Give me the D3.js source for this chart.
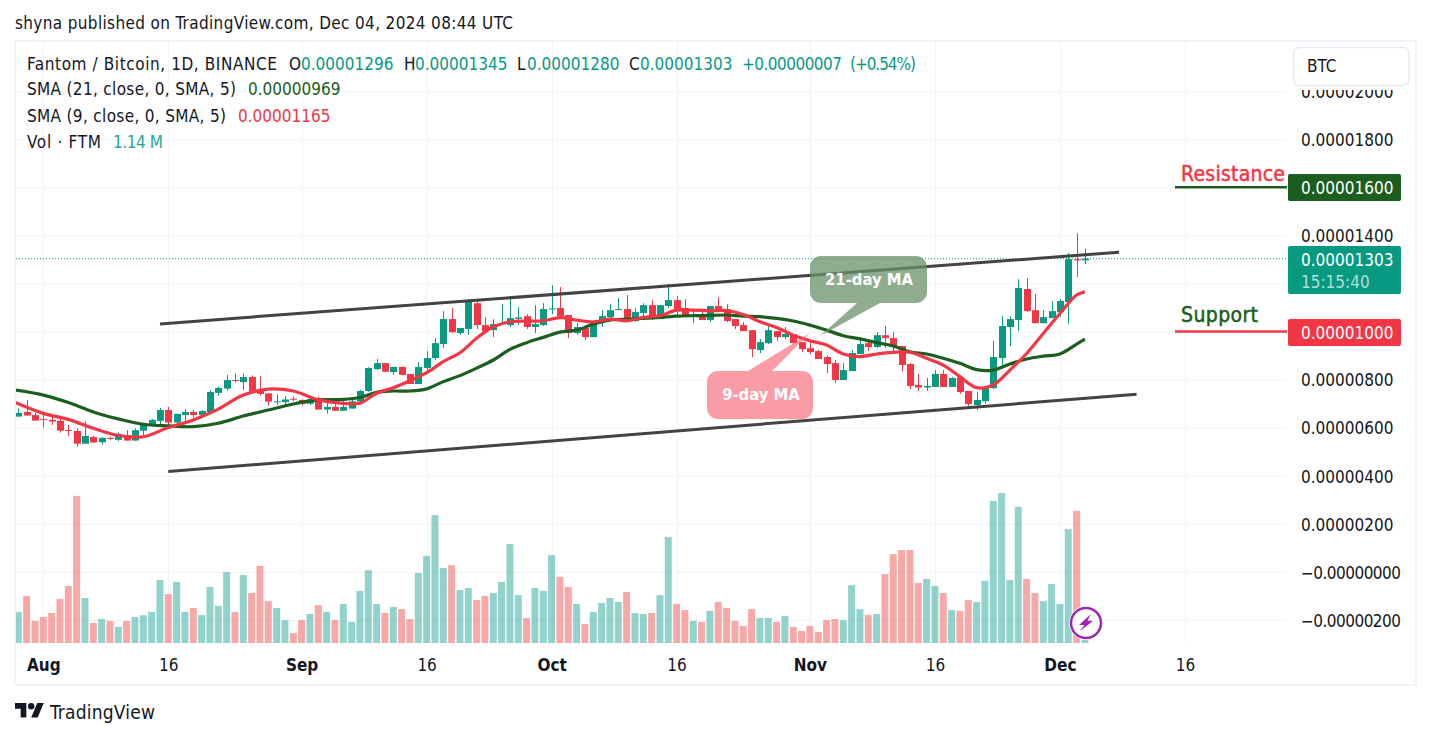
<!DOCTYPE html>
<html><head><meta charset="utf-8">
<script src="https://cdn.jsdelivr.net/npm/d3@7"></script>
<style>
html,body{margin:0;padding:0;background:#fff;overflow:hidden}
svg{display:block}
text{font-family:"DejaVu Sans Condensed","DejaVu Sans",sans-serif;fill:#131722}
</style></head><body><div id="chart"></div>
<script>
// prices are in units of 0.00000001 BTC, one entry per daily candle from 29 Jul 2024
const opens=[647,666,653,637,633,629,591,587,534,562,540,558,550,569,547,588,608,629,674,622,653,666,653,665,745,763,799,790,811,760,743,707,707,721,716,700,723,676,687,671,680,709,753,844,869,832,853,824,782,849,890,948,1052,994,1011,1118,1027,1006,1033,1027,1053,1064,1019,1027,1094,1098,1069,994,1015,977,1040,1060,1091,1094,1044,1077,1110,1052,1106,1131,1098,1085,1069,1048,1106,1094,1052,1027,1006,923,952,1002,977,990,956,931,919,894,869,799,836,907,952,936,985,973,940,865,778,768,770,824,770,810,753,695,711,765,890,1019,1048,1177,1089,1035,1056,1081,1123,1301,1296];
const highs=[681,716,662,658,647,640,612,598,627,566,561,563,581,591,598,613,637,683,687,658,678,674,674,757,771,820,826,826,818,815,743,739,732,730,718,732,730,709,702,713,718,758,852,886,870,853,855,824,874,919,973,1085,1098,1015,1135,1127,1060,1052,1114,1135,1102,1073,1110,1118,1193,1185,1069,1035,1027,1044,1089,1114,1139,1152,1098,1118,1131,1110,1197,1148,1135,1089,1085,1106,1143,1114,1052,1040,1006,969,1023,1002,1019,990,956,961,923,902,882,869,923,965,965,998,1023,998,940,869,824,807,840,840,811,811,753,749,765,961,1064,1064,1218,1222,1156,1089,1127,1135,1326,1409,1345];
const lows=[647,651,630,601,612,580,566,522,534,537,530,550,545,547,547,570,605,616,605,612,629,642,640,660,734,754,788,757,748,734,692,695,695,711,692,695,676,659,671,671,680,709,750,840,832,820,818,782,782,824,882,932,994,986,986,1011,994,977,1031,1019,1027,1011,994,1023,1073,1064,973,986,965,977,1019,1056,1089,1040,1040,1056,1048,1052,1098,1069,1064,1035,1048,1040,1081,1040,1011,1002,894,911,948,961,969,952,915,907,886,828,786,799,836,907,919,932,932,919,836,761,753,753,770,770,770,741,691,674,699,761,861,940,1002,1081,1035,1035,1056,1060,1031,1226,1280];
const closes=[662,651,630,634,626,588,588,534,566,539,558,555,575,547,590,613,633,674,622,658,666,653,670,749,766,799,796,811,753,741,709,710,718,718,700,720,676,687,671,687,710,753,849,869,833,853,820,782,853,890,952,1052,998,1015,1123,1027,1002,1031,1035,1056,1059,1019,1031,1094,1096,1064,994,1019,977,1044,1064,1089,1094,1044,1081,1110,1052,1110,1131,1085,1064,1089,1048,1106,1085,1044,1023,1002,927,956,1006,977,990,952,927,915,886,865,799,840,911,948,936,985,973,936,861,774,768,774,824,770,807,749,699,716,765,894,1023,1052,1181,1085,1035,1060,1085,1127,1301,1296,1303];
// volume in millions of FTM
const volumes=[11.8,17.9,8.4,9.9,11.4,16.7,21.7,55.9,17.1,7.6,9.1,8.4,6.1,8.4,9.9,10.6,11.8,23.9,18.6,23.2,11.8,13.3,10.6,21.3,14.1,27.0,11.8,25.8,19.0,29.3,16.0,13.3,8.7,3.8,8.7,11.0,14.4,11.8,8.7,14.8,8.0,19.8,27.7,14.8,11.4,13.7,12.9,9.1,26.6,33.1,48.6,28.5,29.6,20.1,20.9,16.3,17.9,19.0,23.2,37.6,18.2,9.5,20.9,19.8,33.4,25.1,21.3,14.8,7.2,11.8,15.2,17.1,15.6,19.4,11.4,11.0,11.4,18.2,40.3,14.8,12.5,8.4,8.0,12.2,15.6,13.3,8.4,6.5,12.9,9.5,9.5,8.0,10.3,6.1,4.6,6.5,4.2,8.7,9.1,8.7,22.0,12.9,10.6,11.0,26.2,33.8,35.3,35.3,22.8,24.3,21.7,19.0,12.5,12.2,16.3,15.6,23.6,54.0,57.0,23.9,51.7,24.3,19.0,16.0,22.4,14.8,43.3,50.2,1.14];
// moving averages at these day offsets
const maDays=[-0.4,3,6,9,12,15,18,21,24,27,30,33,36,39,41,43,45,47,49,51,53,55,57,59,61,63,65,67,69,71,73,75,77,79,81,83,85,87,89,91,93,95,97,99,101,103,105,107,109,111,113,115,117,119,121,123,125,127,128];
const sma9=[706,660,635,598,568,563,601,633,678,736,761,753,716,702,702,744,767,796,829,875,912,972,1020,1041,1044,1045,1058,1048,1040,1052,1045,1059,1066,1089,1089,1087,1087,1071,1041,1017,985,962,944,907,896,907,914,914,889,861,813,767,778,840,909,992,1075,1152,1165];
const sma21=[757,736,705,666,637,615,608,605,619,649,674,699,716,718,726,748,753,753,762,792,817,848,882,926,954,976,998,1006,1031,1048,1052,1055,1059,1064,1066,1067,1069,1064,1062,1055,1044,1027,1006,983,970,954,940,916,907,889,868,842,840,865,886,898,907,948,969];
// channel trend lines: [day, price]
const upperChannel=[[17,1032],[132.1,1330]];
const lowerChannel=[[18,418],[134.2,740]];
const gridPrices=[-200,0,200,400,600,800,1000,1200,1400,1600,1800,2000];
const axisPrices=[-200,0,200,400,600,800,1400,1800,2000];
const axisPriceLabels=["−0.00000200","−0.00000000","0.00000200","0.00000400","0.00000600","0.00000800","0.00001400","0.00001800","0.00002000"];
const timeTickDates=["2024-08-01","2024-08-16","2024-09-01","2024-09-16","2024-10-01","2024-10-16","2024-11-01","2024-11-16","2024-12-01","2024-12-16"];
const timeTickLabels=["Aug","16","Sep","16","Oct","16","Nov","16","Dec","16"];
const resistanceLevel=1600, supportLevel=1000, lastPrice=1303;

const GREEN="#089981",RED="#f23645",DARK="#1b5e20",GRID="#f2f3f6",FRAME="#f0f3fa";
const W=1431,H=738,L=16,R=1287,TOP=42,PB=643;
const svg=d3.select("#chart").append("svg").attr("width",W).attr("height",H);
const t0=Date.UTC(2024,6,29);
const dayDate=i=>new Date(t0+i*864e5);
const x=d3.scaleUtc().domain([dayDate(0),dayDate(140)]).range([18.3,18.3+8.333*140]);
const xd=i=>x(dayDate(i));
const y=d3.scaleLinear().domain([-200,2000]).range([620.3,91]);
const v=d3.scaleLinear().domain([0,57]).range([PB,PB-150]);

svg.append("defs").append("clipPath").attr("id","pane").append("rect").attr("x",L).attr("y",TOP).attr("width",R-L).attr("height",PB-TOP);

// frame
svg.append("rect").attr("x",15).attr("y",41).attr("width",1401).attr("height",644).attr("fill","none").attr("stroke",FRAME).attr("stroke-width",2);

// grid
const tickDates=timeTickDates.map(s=>new Date(s+"T00:00:00Z"));
const grid=svg.append("g").attr("stroke",GRID).attr("stroke-width",1).attr("shape-rendering","crispEdges");
grid.selectAll(".h").data(gridPrices).join("line").attr("x1",L).attr("x2",R).attr("y1",d=>Math.round(y(d))+.5).attr("y2",d=>Math.round(y(d))+.5);
grid.selectAll(".v").data(tickDates).join("line").attr("x1",d=>Math.round(x(d))+.5).attr("x2",d=>Math.round(x(d))+.5).attr("y1",TOP).attr("y2",PB);

const pane=svg.append("g").attr("clip-path","url(#pane)");
// volume
const barW=7;
pane.selectAll(".vol").data(volumes).join("rect")
  .attr("x",(d,i)=>xd(i)-barW/2).attr("width",barW).attr("y",d=>v(d)).attr("height",d=>PB-v(d))
  .attr("fill",(d,i)=>closes[i]>=opens[i]?"rgba(38,166,154,.5)":"rgba(239,83,80,.5)");

// last price dotted line
pane.append("line").attr("x1",L).attr("x2",R).attr("y1",y(lastPrice)).attr("y2",y(lastPrice)).attr("stroke",GREEN).attr("stroke-width",1).attr("stroke-dasharray","1 2");

// candles
const col=i=>closes[i]>=opens[i]?GREEN:RED;
pane.selectAll(".wick").data(d3.range(closes.length)).join("line")
  .attr("x1",i=>Math.round(xd(i))+.5).attr("x2",i=>Math.round(xd(i))+.5).attr("y1",i=>y(highs[i])).attr("y2",i=>y(lows[i])).attr("stroke",col).attr("stroke-width",1);
pane.selectAll(".body").data(d3.range(closes.length)).join("rect")
  .attr("x",i=>Math.round(xd(i))-3).attr("width",7)
  .attr("y",i=>y(Math.max(opens[i],closes[i])))
  .attr("height",i=>Math.max(1,Math.abs(y(opens[i])-y(closes[i])))).attr("fill",col);

// moving averages
const line=vals=>d3.line().x((d,i)=>xd(maDays[i])).y(d=>y(d)).curve(d3.curveCatmullRom.alpha(.5))(vals);
pane.append("path").attr("d",line(sma21)).attr("fill","none").attr("stroke",DARK).attr("stroke-width",3.2);
pane.append("path").attr("d",line(sma9)).attr("fill","none").attr("stroke",RED).attr("stroke-width",3.2);

// channel
[upperChannel,lowerChannel].forEach(c=>{
  svg.append("line").attr("x1",xd(c[0][0])).attr("y1",y(c[0][1])).attr("x2",xd(c[1][0])).attr("y2",y(c[1][1])).attr("stroke","#434343").attr("stroke-width",3);
});

// callouts
function bubble(xa,ya,xb,yb,r,tx1,tx2,tipx,tipy,fill,label,cx,cy){
  const p=d3.path();
  p.moveTo(xa+r,ya);p.lineTo(xb-r,ya);p.arcTo(xb,ya,xb,ya+r,r);p.lineTo(xb,yb-r);p.arcTo(xb,yb,xb-r,yb,r);
  if(tipy>yb){p.lineTo(tx2,yb);p.lineTo(tipx,tipy);p.lineTo(tx1,yb);}
  p.lineTo(xa+r,yb);p.arcTo(xa,yb,xa,yb-r,r);p.lineTo(xa,ya+r);p.arcTo(xa,ya,xa+r,ya,r);
  if(tipy<ya){p.lineTo(tx1,ya);p.lineTo(tipx,tipy);p.lineTo(tx2,ya);}
  p.closePath();
  svg.append("path").attr("d",p.toString()).attr("fill",fill);
  svg.append("text").attr("x",cx).attr("y",cy).attr("text-anchor","middle").attr("dominant-baseline","central")
    .attr("font-size",16.5).attr("font-weight","bold").style("fill","#fff").text(label);
}
bubble(810,256,927,303,11,857,880,820,336,"rgba(106,144,106,.75)","21-day MA",869,279);
bubble(707,371,813,419,11,748,772,810,333,"rgba(247,90,105,.6)","9-day MA",761,394);

// resistance / support
svg.append("line").attr("x1",1175).attr("x2",R).attr("y1",y(resistanceLevel)).attr("y2",y(resistanceLevel)).attr("stroke",DARK).attr("stroke-width",2.5);
svg.append("line").attr("x1",1175).attr("x2",R).attr("y1",y(supportLevel)).attr("y2",y(supportLevel)).attr("stroke",RED).attr("stroke-width",2.5);
svg.append("text").attr("x",1181).attr("y",181).attr("font-size",21).attr("textLength",104).style("fill",RED).style("stroke",RED).style("stroke-width",.5).text("Resistance");
svg.append("text").attr("x",1181).attr("y",322).attr("font-size",21).attr("textLength",77).style("fill",DARK).style("stroke",DARK).style("stroke-width",.5).text("Support");

// axes
const fs=17;
const axisR=d3.axisRight(y).tickValues(axisPrices).tickSize(0).tickPadding(0).tickFormat((d,i)=>axisPriceLabels[i]);
const ga=svg.append("g").attr("transform","translate(1301,0)").call(axisR);
ga.select(".domain").remove();
ga.selectAll("text").attr("font-size",fs).attr("font-family",null).attr("dy",".36em").each(function(d){if(d<=0)d3.select(this).attr("textLength",100);});
const axisB=d3.axisBottom(x).tickValues(tickDates).tickSize(0).tickPadding(0).tickFormat((d,i)=>timeTickLabels[i]);
const gb=svg.append("g").attr("transform","translate(0,659)").call(axisB);
gb.select(".domain").remove();
gb.selectAll("text").attr("font-size",fs).attr("font-family",null).attr("dy",".71em").attr("font-weight",(d,i)=>timeTickLabels[i]==="16"?"normal":"600");

// price labels
function tag(y0,y1,fill){svg.append("rect").attr("x",1288).attr("y",y0).attr("width",113).attr("height",y1-y0).attr("rx",2).attr("fill",fill);}
function tagText(yy,s,c){svg.append("text").attr("x",1301).attr("y",yy).attr("dy",".36em").attr("font-size",fs).style("fill",c||"#fff").text(s);}
tag(174,201,DARK);tagText(187.5,"0.00001600");
tag(246,294,GREEN);tagText(260,"0.00001303");tagText(282,"15:15:40","rgba(255,255,255,.7)");
tag(319,346,RED);tagText(332.5,"0.00001000");

// BTC button
svg.append("rect").attr("x",1288).attr("y",42).attr("width",127).attr("height",48).attr("fill","#fff");
svg.append("rect").attr("x",1293.5).attr("y",47.5).attr("width",115.5).attr("height",38).attr("rx",6).attr("fill","#fff").attr("stroke","#e8eaf0").attr("stroke-width",1.5);
svg.append("text").attr("x",1307).attr("y",66).attr("dy",".36em").attr("font-size",fs).text("BTC");

// legend
function tx(xx,yy,s,c,len){const t=svg.append("text").attr("x",xx).attr("y",yy).attr("dy",".36em").attr("font-size",fs).text(s);if(c)t.style("fill",c);if(len)t.attr("textLength",len);return t;}
tx(15,23,"shyna published on TradingView.com, Dec 04, 2024 08:44 UTC",null,498);
tx(27,64,"Fantom / Bitcoin, 1D, BINANCE",null,250);
[["O",289,"0.00001296",301],["H",404,"0.00001345",415],["L",517,"0.00001280",527],["C",629,"0.00001303",640]].forEach(a=>{tx(a[1],64,a[0]);tx(a[3],64,a[2],GREEN);});
tx(742,64,"+0.00000007",GREEN,100);tx(850,64,"(+0.54%)",GREEN,66);
tx(27,89,"SMA (21, close, 0, SMA, 5)",null,209);tx(248,89,"0.00000969",DARK);
tx(27,116,"SMA (9, close, 0, SMA, 5)",null,199);tx(238,116,"0.00001165",RED);
tx(27,142,"Vol · FTM",null,74);tx(113,142,"1.14 M","#26a69a",50);

// lightning mark
const b=svg.append("g").attr("transform","translate(1086,623)");
b.append("circle").attr("r",17).attr("fill","#fff");
b.append("circle").attr("r",15).attr("fill","#fff").attr("stroke","#9c27b0").attr("stroke-width",2.5);
b.append("path").attr("d","M5 -9L-7 2L-1.5 2L-6 8L7 -2L1.5 -2.5Z").attr("fill","#9c27b0");

// logo
const lg=svg.append("g").attr("transform","translate(15,699.8) scale(.81)").attr("fill","#131722");
lg.append("path").attr("d","M14 22H7V11H0V4h14v18zM28 22h-8l7.5-18h8L28 22z");
lg.append("circle").attr("cx",20).attr("cy",8).attr("r",4);
svg.append("text").attr("x",50).attr("y",712).attr("dy",".36em").attr("font-size",19).attr("textLength",105).text("TradingView");
</script></body></html>
